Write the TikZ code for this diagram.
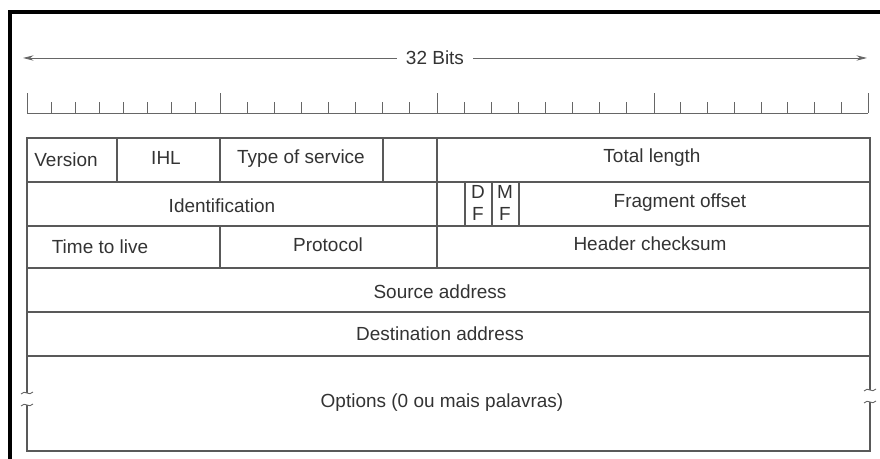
\documentclass[tikz,border=0pt]{standalone}
\usepackage{fontspec}
\setmainfont{Liberation Sans}
\usetikzlibrary{arrows.meta}

\begin{document}
\begin{tikzpicture}[x=0.02cm, y=-0.02cm,
    every node/.style={font=\fontsize{10.8}{12.5}\selectfont, text=black!80, inner sep=1pt},
    linha/.style={draw=black!65, line width=0.65pt},
    marca/.style={draw=black!60, line width=0.5pt}]
    \useasboundingbox (0,0) rectangle (880,459);
    \draw[line width=2.2pt] (10,459) -- (10,12) -- (880,12);
    % seta de 32 bits
    \node[inner xsep=5pt] (bits) at (435,58) {32 Bits};
    \coordinate (esq) at (23,58);
    \coordinate (dir) at (867,58);
    \draw[marca, -{Stealth[length=6pt,width=3pt]}] (bits.west) -- (esq);
    \draw[marca, -{Stealth[length=6pt,width=3pt]}] (bits.east) -- (dir);
    % regua
    \draw[marca] (27,113) -- (868,113);
    \foreach \x in {27,220,437,654,868} \draw[marca] (\x,113) -- (\x,93);
    \foreach \a/\b in {27/220,220/437,437/654,654/868}
        \foreach \k in {1,...,7} \draw[marca] ({\a+\k*(\b-\a)/8},113) -- ++(0,-11);
    % tabela
    \draw[linha] (27,393) -- (27,138) -- (870,138) -- (870,390);
    \draw[linha] (27,405) -- (27,451) -- (870,451) -- (870,402);
    \foreach \y in {182,226,268,312,356} \draw[linha] (27,\y) -- (870,\y);
    \foreach \x in {117,220,383} \draw[linha] (\x,138) -- (\x,182);
    \draw[linha] (437,138) -- (437,268);
    \foreach \x in {465,492,519} \draw[linha] (\x,182) -- (\x,226);
    \draw[linha] (220,226) -- (220,268);
    \foreach \x/\y in {27/393,27/405,870/390,870/402}
        \draw[marca] (\x-6,\y+1) .. controls (\x-2,\y-4) and (\x+2,\y+4) .. (\x+6,\y-1);
    \node (versao) at (66,160) {Version};
    \node (ihl) at (166,158) {IHL};
    \node (tos) at (301,159) {Type of service};
    \node (total) at (652,158) {Total length};
    \node (ident) at (222,206) {Identification};
    \node[align=center] (df) at (478,203) {D\\F};
    \node[align=center] (mf) at (505,203) {M\\F};
    \node (frag) at (680,203) {Fragment offset};
    \node (ttl) at (100,247) {Time to live};
    \node (proto) at (328,245) {Protocol};
    \node (check) at (650,244) {Header checksum};
    \node (origem) at (440,292) {Source address};
    \node (destino) at (440,334) {Destination address};
    \node (opcoes) at (442,403) {Options (0 ou mais palavras)};
\end{tikzpicture}
\end{document}
